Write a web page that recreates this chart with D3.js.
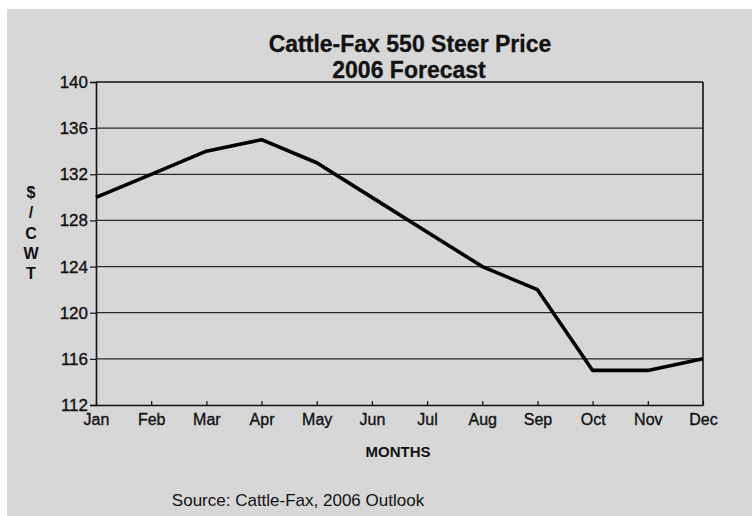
<!DOCTYPE html>
<html>
<head>
<meta charset="utf-8">
<script src="https://cdnjs.cloudflare.com/ajax/libs/d3/7.8.5/d3.min.js"></script>
<style>
  body { margin: 0; background: #fff; }
  svg { display: block; }
</style>
</head>
<body>
<div id="chart"></div>
<script>
// chart data
var months = ["Jan", "Feb", "Mar", "Apr", "May", "Jun", "Jul", "Aug", "Sep", "Oct", "Nov", "Dec"];
var prices = [130, 132, 134, 135, 133, 130, 127, 124, 122, 115, 115, 116];
var yTicks = [112, 116, 120, 124, 128, 132, 136, 140];
var yLabelChars = ["$", "/", "C", "W", "T"];

var width = 752, height = 516;
// plot box (note: "top" is taken by window.top, so prefix these)
var plotLeft = 96, plotRight = 703, plotTop = 82, plotBottom = 405;

var svg = d3.select('#chart').append('svg')
    .attr('width', width)
    .attr('height', height);

// gray page with white scan border on top/left
svg.append('rect')
    .attr('x', 7).attr('y', 9)
    .attr('width', width - 7).attr('height', height - 9)
    .attr('fill', '#d7d7d7');

var x = d3.scalePoint().domain(months).range([plotLeft, plotRight]);
var y = d3.scaleLinear().domain([112, 140]).range([plotBottom, plotTop]);

// horizontal grid lines
svg.append('g')
    .selectAll('line')
    .data(yTicks.filter(function(d){ return d > 112 && d < 140; }))
    .enter().append('line')
    .attr('x1', plotLeft).attr('x2', plotRight)
    .attr('y1', function(d){ return y(d); })
    .attr('y2', function(d){ return y(d); })
    .attr('stroke', '#2a2a22')
    .attr('stroke-width', 1.2);

// frame top + right
svg.append('line')
    .attr('x1', plotLeft).attr('x2', plotRight)
    .attr('y1', y(140)).attr('y2', y(140))
    .attr('stroke', '#111').attr('stroke-width', 1.6);
svg.append('line')
    .attr('x1', plotRight).attr('x2', plotRight)
    .attr('y1', y(140)).attr('y2', y(112))
    .attr('stroke', '#111').attr('stroke-width', 1.6);

// y axis
var yAxis = svg.append('g')
    .attr('transform', 'translate(' + plotLeft + ',0)')
    .call(d3.axisLeft(y).tickValues(yTicks).tickSize(6).tickPadding(2));
yAxis.select('.domain').attr('stroke', '#111').attr('stroke-width', 1.6);
yAxis.selectAll('.tick line').attr('stroke', '#111').attr('stroke-width', 1.2);
yAxis.selectAll('text')
    .attr('font-family', 'Liberation Sans, Arial, sans-serif')
    .attr('font-size', 17)
    .attr('fill', '#111')
    .attr('stroke', '#111')
    .attr('stroke-width', 0.35);

// x axis, ticks point inward
var xAxis = svg.append('g')
    .attr('transform', 'translate(0,' + plotBottom + ')')
    .call(d3.axisBottom(x).tickSizeInner(-4).tickSizeOuter(0).tickPadding(6));
xAxis.select('.domain').attr('stroke', '#111').attr('stroke-width', 1.6);
xAxis.selectAll('.tick line').attr('stroke', '#111').attr('stroke-width', 1.2);
xAxis.selectAll('text')
    .attr('font-family', 'Liberation Sans, Arial, sans-serif')
    .attr('font-size', 16)
    .attr('dy', '0.85em')
    .attr('fill', '#111')
    .attr('stroke', '#111')
    .attr('stroke-width', 0.35);

// price line
var line = d3.line()
    .x(function(d, i){ return x(months[i]); })
    .y(function(d){ return y(d); });

svg.append('path')
    .datum(prices)
    .attr('d', line)
    .attr('fill', 'none')
    .attr('stroke', '#000')
    .attr('stroke-width', 3.6)
    .attr('stroke-linejoin', 'round');

// title
var title = svg.append('text')
    .attr('text-anchor', 'middle')
    .attr('font-family', 'Liberation Sans Narrow, Arial Narrow, sans-serif')
    .attr('font-weight', 'bold')
    .attr('font-size', 23)
    .attr('fill', '#111')
    .attr('stroke', '#111')
    .attr('stroke-width', 0.3);
title.append('tspan').attr('x', 410).attr('y', 52).text('Cattle-Fax 550 Steer Price');
title.append('tspan').attr('x', 409).attr('y', 78).text('2006 Forecast');

// stacked y label
svg.append('g')
    .selectAll('text')
    .data(yLabelChars)
    .enter().append('text')
    .attr('x', 31)
    .attr('y', function(d, i){ return 198 + i * 20.3; })
    .attr('text-anchor', 'middle')
    .attr('font-family', 'Liberation Sans, Arial, sans-serif')
    .attr('font-weight', 'bold')
    .attr('font-size', 16)
    .attr('fill', '#111')
    .text(function(d){ return d; });

// x label
svg.append('text')
    .attr('x', 398).attr('y', 457)
    .attr('text-anchor', 'middle')
    .attr('font-family', 'Liberation Sans, Arial, sans-serif')
    .attr('font-weight', 'bold')
    .attr('font-size', 15)
    .attr('fill', '#111')
    .text('MONTHS');

// source
svg.append('text')
    .attr('x', 298).attr('y', 506)
    .attr('text-anchor', 'middle')
    .attr('font-family', 'Liberation Sans, Arial, sans-serif')
    .attr('font-size', 17)
    .attr('fill', '#111')
    .text('Source: Cattle-Fax, 2006 Outlook');
</script>
</body>
</html>
